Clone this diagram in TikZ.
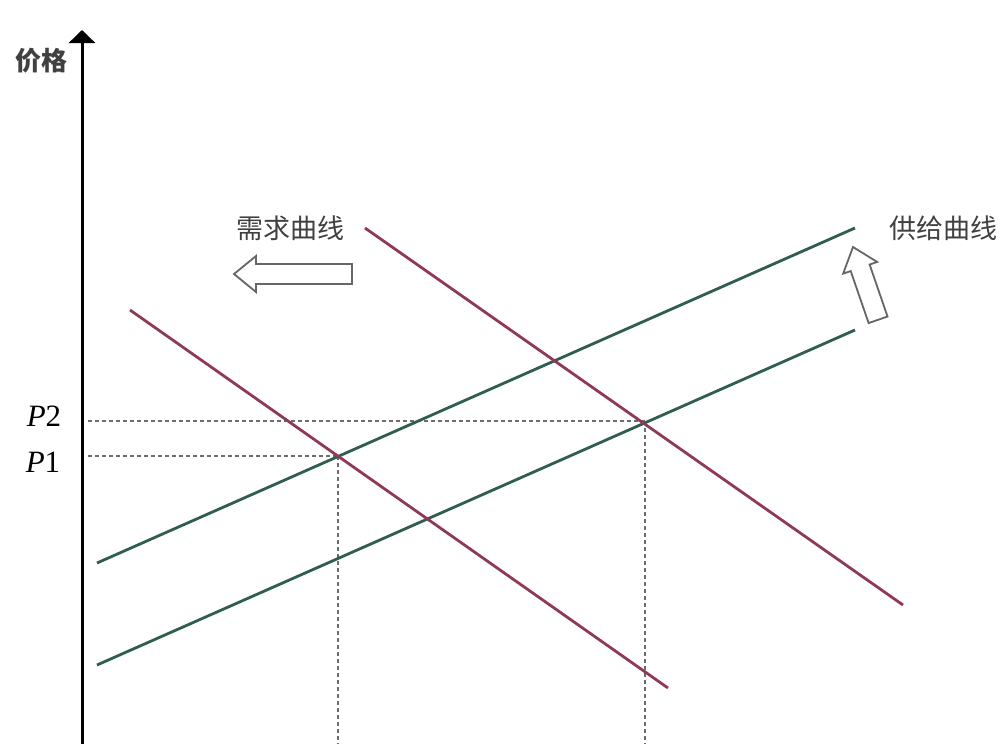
\documentclass[tikz,border=0pt]{standalone}
\usepackage{fontspec}
\setmainfont{Liberation Serif}
\newfontfamily\cjk{Noto Sans CJK SC}
\usetikzlibrary{arrows.meta}
\definecolor{dcurve}{HTML}{8E3A57}
\definecolor{scurve}{HTML}{2F5E50}
\tikzset{
  axisline/.style={line width=3pt,-{Triangle[width=26pt,length=13pt]}},
  demand/.style={dcurve,line width=2.8pt},
  supply/.style={scurve,line width=2.8pt},
  guide/.style={gray!85!black,line width=1.8pt,dash pattern=on 4pt off 3pt},
  cjklabel/.style={font=\cjk\fontsize{27}{27}\selectfont,text=black!75,inner sep=0pt},
  plabel/.style={font=\fontsize{31}{31}\selectfont,inner sep=0pt},
  hollow/.style={draw=black!60,line width=1.8pt,fill=white,line join=miter}
}
\begin{document}
\begin{tikzpicture}[x=1pt,y=-1pt]
\useasboundingbox (0,0) rectangle (1002,744);
% axis
\coordinate (ybot) at (82,748);
\coordinate (ytop) at (82,30);
\draw[axisline] (ybot) -- (ytop);
\node[cjklabel,font=\cjk\bfseries\fontsize{26}{26}\selectfont] (price) at (42,61) {价格};
% curves
\coordinate (d1a) at (365,228);
\coordinate (d1b) at (903,605);
\coordinate (d2a) at (130,310);
\coordinate (d2b) at (668,688);
\coordinate (s1a) at (97,563);
\coordinate (s1b) at (855,228);
\coordinate (s2a) at (97,665);
\coordinate (s2b) at (855,330);
% equilibrium points
\coordinate (e1) at (338,456);
\coordinate (e2) at (645,421);
\coordinate (p1l) at (88,456);
\coordinate (p2l) at (88,421);
\coordinate (q1b) at (338,748);
\coordinate (q2b) at (645,748);
\draw[guide] (p2l) -- (e2);
\draw[guide] (p1l) -- (e1);
\draw[guide] (e1) -- (q1b);
\draw[guide] (e2) -- (q2b);
\draw[supply] (s1a) -- (s1b);
\draw[supply] (s2a) -- (s2b);
\draw[demand] (d1a) -- (d1b);
\draw[demand] (d2a) -- (d2b);
% labels
\node[plabel] (P2) at (44,416) {\textit{P}2};
\node[plabel] (P1) at (43,462) {\textit{P}1};
\node[cjklabel] (dlab) at (290,228) {需求曲线};
\node[cjklabel] (slab) at (943,228) {供给曲线};
% hollow arrows
\draw[hollow,shift={(234,274)},rotate=0]
  (0,0) -- (22,-18) -- (22,-10) -- (118,-10) -- (118,10) -- (22,10) -- (22,18) -- cycle;
\draw[hollow,shift={(853,247)},rotate=-71]
  (0,0) -- (22,-18) -- (22,-10) -- (77,-10) -- (77,10) -- (22,10) -- (22,18) -- cycle;
\end{tikzpicture}
\end{document}
